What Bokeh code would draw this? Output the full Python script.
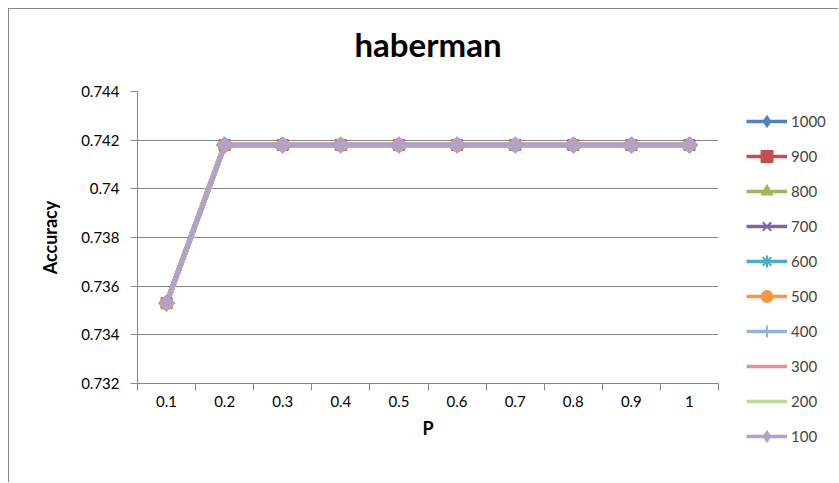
from bokeh.plotting import figure
from bokeh.layouts import row
from bokeh.models import (FixedTicker, CustomJSTickFormatter, Legend, LegendItem, Range1d,
                          Title)
from bokeh.embed import file_html
from bokeh.resources import INLINE
import math

# P values along the x axis (categories)
p_labels = ["0.1", "0.2", "0.3", "0.4", "0.5", "0.6", "0.7", "0.8", "0.9", "1"]

# Accuracy on the haberman data set, one list per number of iterations
acc_1000 = [0.7353, 0.7418, 0.7418, 0.7418, 0.7418, 0.7418, 0.7418, 0.7418, 0.7418, 0.7418]
acc_900 = [0.7353, 0.7418, 0.7418, 0.7418, 0.7418, 0.7418, 0.7418, 0.7418, 0.7418, 0.7418]
acc_800 = [0.7353, 0.7418, 0.7418, 0.7418, 0.7418, 0.7418, 0.7418, 0.7418, 0.7418, 0.7418]
acc_700 = [0.7353, 0.7418, 0.7418, 0.7418, 0.7418, 0.7418, 0.7418, 0.7418, 0.7418, 0.7418]
acc_600 = [0.7353, 0.7418, 0.7418, 0.7418, 0.7418, 0.7418, 0.7418, 0.7418, 0.7418, 0.7418]
acc_500 = [0.7353, 0.7418, 0.7418, 0.7418, 0.7418, 0.7418, 0.7418, 0.7418, 0.7418, 0.7418]
acc_400 = [0.7353, 0.7418, 0.7418, 0.7418, 0.7418, 0.7418, 0.7418, 0.7418, 0.7418, 0.7418]
acc_300 = [0.7353, 0.7418, 0.7418, 0.7418, 0.7418, 0.7418, 0.7418, 0.7418, 0.7418, 0.7418]
acc_200 = [0.7353, 0.7418, 0.7418, 0.7418, 0.7418, 0.7418, 0.7418, 0.7418, 0.7418, 0.7418]
acc_100 = [0.7353, 0.7418, 0.7418, 0.7418, 0.7418, 0.7418, 0.7418, 0.7418, 0.7418, 0.7418]

series_names = ["1000", "900", "800", "700", "600", "500", "400", "300", "200", "100"]
series_values = [acc_1000, acc_900, acc_800, acc_700, acc_600,
                 acc_500, acc_400, acc_300, acc_200, acc_100]

y_ticks = [0.732, 0.734, 0.736, 0.738, 0.740, 0.742, 0.744]

# Office-style palette and marker for each series: (color, marker, size)
styles = [
    ("#4F81BD", "diamond", 11.5),
    ("#C0504D", "square", 11),
    ("#9BBB59", "triangle", 13),
    ("#8064A2", "x", 11),
    ("#4BACC6", "asterisk", 11),
    ("#F79646", "circle", 13),
    ("#95B3D7", "cross", 12),
    ("#D99694", "dash", 10),
    ("#C3D69B", "dash", 14),
    ("#B3A2C7", "diamond", 11.5),
]

FONT = "Lato"
GRID = "#878787"
LINE_W = 5


def add_marker(fig, xs, ys, color, marker, size, legend_shape=False):
    """Scatter one series' markers; diamonds are turned squares on the chart."""
    if marker == "diamond" and not legend_shape:
        return fig.scatter(xs, ys, marker="square", size=size, angle=math.pi / 4,
                           line_color=color, fill_color=color)
    if marker in ("x", "asterisk", "cross", "dash"):
        return fig.scatter(xs, ys, marker=marker, size=size,
                           line_color=color, line_width=2, fill_color=None)
    return fig.scatter(xs, ys, marker=marker, size=size,
                       line_color=color, fill_color=color)


x = [i + 1 for i in range(len(p_labels))]

p = figure(width=721, height=474, output_backend="svg", toolbar_location=None,
           x_range=Range1d(0.5, len(p_labels) + 0.5), y_range=Range1d(y_ticks[0], y_ticks[-1]),
           min_border_left=128, min_border_right=12, min_border_top=82, min_border_bottom=100)
p.frame_align = False
p.styles = {"margin-left": "8px", "margin-top": "8px",
            "border-left": f"1px solid {GRID}", "border-top": f"1px solid {GRID}"}
p.outline_line_color = None
p.background_fill_color = "white"
p.border_fill_color = "white"

# Title: a thin blank strip next to the plot area, then the chart title above it
p.title = None
p.add_layout(Title(text=" ", text_font_size="1px", standoff=20), "above")
p.add_layout(Title(text="haberman", align="center", text_font=FONT, text_font_size="33px",
                   text_font_style="bold", text_color="black", standoff=10), "above")

# Lines first, markers on top
for vals, (color, marker, size) in zip(series_values, styles):
    p.line(x, vals, line_color=color, line_width=LINE_W)
for vals, (color, marker, size) in zip(series_values, styles):
    add_marker(p, x, vals, color, marker, size)

# Axes
p.xaxis.ticker = FixedTicker(ticks=x, minor_ticks=[v - 0.5 for v in x] + [x[-1] + 0.5])
p.xaxis.major_label_overrides = {float(v): lab for v, lab in zip(x, p_labels)}
p.xaxis.major_tick_out = 0
p.xaxis.major_tick_in = 0
p.xaxis.minor_tick_out = 7
p.xaxis.minor_tick_in = 0
p.xaxis.minor_tick_line_color = GRID
p.xaxis.major_label_standoff = 5
p.xaxis.axis_label = "P"
p.xaxis.axis_label_standoff = 7

p.yaxis.ticker = FixedTicker(ticks=y_ticks, minor_ticks=[])
p.yaxis.formatter = CustomJSTickFormatter(code="return String(Number(tick.toFixed(3)));")
p.yaxis.major_tick_out = 7
p.yaxis.major_tick_in = 0
p.yaxis.major_label_standoff = 11
p.yaxis.axis_label = "Accuracy"
p.yaxis.axis_label_standoff = 17

for ax in (p.xaxis, p.yaxis):
    ax.axis_line_color = GRID
    ax.major_tick_line_color = GRID
    ax.major_label_text_font = FONT
    ax.major_label_text_font_size = "15px"
    ax.major_label_text_color = "black"
    ax.axis_label_text_font = FONT
    ax.axis_label_text_font_size = "18px"
    ax.axis_label_text_font_style = "bold"
    ax.axis_label_text_color = "black"

p.xgrid.visible = False
p.ygrid.ticker = FixedTicker(ticks=y_ticks)
p.ygrid.grid_line_color = GRID
p.ygrid.grid_line_width = 1

# Legend panel to the right of the chart
leg_fig = figure(width=109, height=474, output_backend="svg", toolbar_location=None,
                 x_range=Range1d(0, 1), y_range=Range1d(0, 1),
                 x_axis_type=None, y_axis_type=None, min_border=0)
leg_fig.frame_align = False
leg_fig.styles = {"margin-top": "8px", "border-top": f"1px solid {GRID}"}
leg_fig.outline_line_color = None
leg_fig.xgrid.visible = False
leg_fig.ygrid.visible = False
leg_fig.background_fill_color = "white"
leg_fig.border_fill_color = "white"

nan = [float("nan")]
items = []
for name, (color, marker, size) in zip(series_names, styles):
    lr = leg_fig.line(nan, nan, line_color=color, line_width=3.5)
    mr = add_marker(leg_fig, nan, nan, color, marker, size, legend_shape=True)
    items.append(LegendItem(label=name, renderers=[lr, mr]))

legend = Legend(items=items, location=(17, 32), orientation="vertical",
                glyph_width=41, glyph_height=30, label_height=30, spacing=5,
                padding=0, margin=0, label_standoff=4,
                border_line_color=None, background_fill_alpha=0,
                label_text_font=FONT, label_text_font_size="15px")
leg_fig.add_layout(legend, "center")

layout = row(p, leg_fig)
open("out.html", "w").write(file_html(layout, INLINE))
